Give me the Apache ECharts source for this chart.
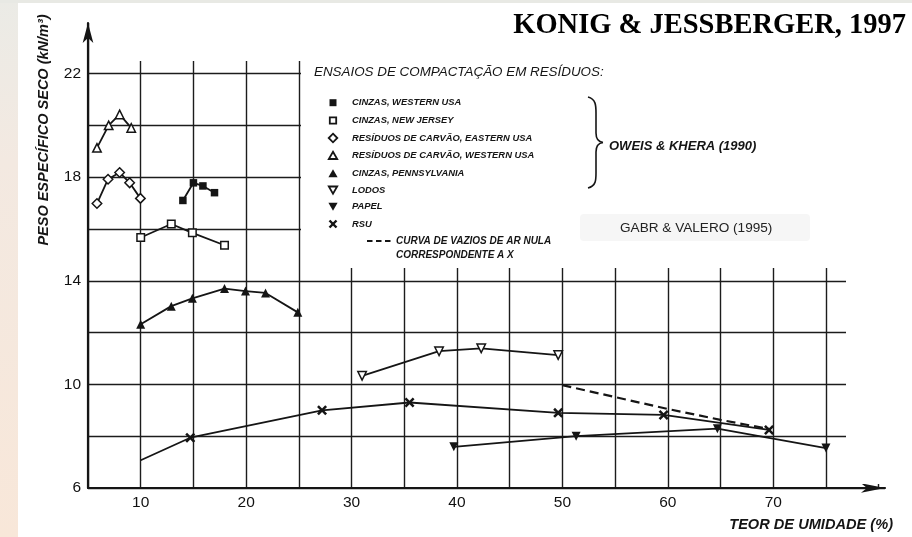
<!DOCTYPE html>
<html><head><meta charset="utf-8">
<script src="https://cdn.jsdelivr.net/npm/echarts@6/dist/echarts.min.js"></script>
<style>html,body{margin:0;padding:0;background:#fff}#c{width:912px;height:537px}</style>
</head><body><div id="c"></div><script>
// ---- data ----
const cinzasWesternX = [14.0, 15.0, 15.9, 17.0];
const cinzasWesternY = [17.1, 17.78, 17.66, 17.4];
const cinzasNJX = [10.0, 12.9, 14.9, 17.95];
const cinzasNJY = [15.67, 16.19, 15.85, 15.37];
const carvaoEastX = [5.85, 6.9, 8.0, 8.95, 9.97];
const carvaoEastY = [16.98, 17.92, 18.18, 17.78, 17.18];
const carvaoWestX = [5.85, 6.96, 8.0, 9.1];
const carvaoWestY = [19.13, 20.0, 20.42, 19.9];
const pennX = [10.0, 12.9, 14.9, 17.95, 19.94, 21.84, 24.9];
const pennY = [12.32, 13.02, 13.32, 13.7, 13.6, 13.53, 12.78];
const lodosX = [31.0, 38.3, 42.3, 49.6];
const lodosY = [10.33, 11.28, 11.39, 11.13];
const papelX = [39.7, 51.3, 64.7, 75.0];
const papelY = [7.59, 8.0, 8.29, 7.54];
const rsuX = [10.0, 14.7, 27.2, 35.5, 49.6, 59.6, 69.6];
const rsuY = [7.07, 7.94, 9.0, 9.3, 8.9, 8.82, 8.24];
const curvaX = [50, 60, 65, 69.6];
const curvaY = [9.97, 9.05, 8.63, 8.28];

const xTickLabels = [10, 20, 30, 40, 50, 60, 70];
const yTickLabels = [6, 10, 14, 18, 22];

const seriesNames = [
  'CINZAS, WESTERN USA',
  'CINZAS, NEW JERSEY',
  'RESÍDUOS DE CARVÃO, EASTERN USA',
  'RESÍDUOS DE CARVÃO, WESTERN USA',
  'CINZAS, PENNSYLVANIA',
  'LODOS',
  'PAPEL',
  'RSU',
  'CURVA DE VAZIOS DE AR NULA CORRESPONDENTE A X'
];

// ---- build ----
const zip = (xs, ys) => xs.map((x, i) => [x, ys[i]]);
const INK = '#151515';
const XPATH = 'path://M0,1.8L1.8,0L5,3.2L8.2,0L10,1.8L6.8,5L10,8.2L8.2,10L5,6.8L1.8,10L0,8.2L3.2,5Z';
const filled = { color: INK };
const hollow = { color: '#fff', borderColor: INK, borderWidth: 1.5 };
function mk(name, data, symbol, size, item, extra) {
  return Object.assign({
    type: 'line', name, data, symbol, symbolSize: size, itemStyle: item,
    lineStyle: { color: INK, width: 1.8 }, z: 3, silent: true, animation: false
  }, extra || {});
}
const rsuData = zip(rsuX, rsuY).map((p, i) => i === 0 ? { value: p, symbol: 'none' } : p);

const series = [
  mk(seriesNames[0], zip(cinzasWesternX, cinzasWesternY), 'rect', 7.5, filled),
  mk(seriesNames[1], zip(cinzasNJX, cinzasNJY), 'rect', 7.5, hollow),
  mk(seriesNames[2], zip(carvaoEastX, carvaoEastY), 'diamond', 9.5, hollow),
  mk(seriesNames[3], zip(carvaoWestX, carvaoWestY), 'triangle', 8.5, hollow),
  mk(seriesNames[4], zip(pennX, pennY), 'triangle', 9, filled),
  mk(seriesNames[5], zip(lodosX, lodosY), 'triangle', 8.5, hollow, { symbolRotate: 180 }),
  mk(seriesNames[6], zip(papelX, papelY), 'triangle', 9, filled, { symbolRotate: 180 }),
  mk(seriesNames[7], rsuData, XPATH, 10, filled),
  mk(seriesNames[8], zip(curvaX, curvaY), 'none', 0, filled,
     { lineStyle: { color: INK, width: 2.2, type: [9, 5] }, z: 4 })
];

// ---- decorations (legend, labels, masks) ----
const g = [];
// screenshot border strips
g.push({ type: 'rect', z: 0, shape: { x: 0, y: 0, width: 18, height: 537 },
  style: { fill: new echarts.graphic.LinearGradient(0, 0, 0, 1, [
    { offset: 0, color: '#ebebe6' }, { offset: 0.3, color: '#f3e9e1' }, { offset: 1, color: '#f8e7d9' }]) } });
g.push({ type: 'rect', z: 0, shape: { x: 0, y: 0, width: 912, height: 3 }, style: { fill: '#e8e9e4' } });
// masks that limit the grid lines like in the reference
g.push({ type: 'rect', z: 1, shape: { x: 94, y: 3, width: 818, height: 58 }, style: { fill: '#fff' } });
g.push({ type: 'rect', z: 1, shape: { x: 301, y: 3, width: 611, height: 265 }, style: { fill: '#fff' } });
g.push({ type: 'rect', z: 1, shape: { x: 846, y: 3, width: 66, height: 481 }, style: { fill: '#fff' } });

const LEG_FONT = 'italic bold 9.4px "Liberation Sans", Arial, sans-serif';
const CUR_FONT = 'italic bold 10px "Liberation Sans", Arial, sans-serif';
g.push({ type: 'text', z: 100, x: 906, y: 26, style: { text: 'KONIG & JESSBERGER, 1997',
  font: 'bold 28.5px "Liberation Serif", "Times New Roman", serif', fill: '#000', align: 'right', verticalAlign: 'middle' } });
g.push({ type: 'text', z: 100, x: 314, y: 72, style: { text: 'ENSAIOS DE COMPACTAÇÃO EM RESÍDUOS:',
  font: 'italic 13.4px "Liberation Sans", Arial, sans-serif', fill: INK, align: 'left', verticalAlign: 'middle' } });

const legY = [102.7, 120.5, 138, 155.5, 173.5, 190, 206.5, 224];
const icons = ['sqF', 'sqO', 'diaO', 'triO', 'triF', 'dtriO', 'dtriF', 'x'];
function icon(kind, cx, cy) {
  const F = { fill: INK }, O = { fill: '#fff', stroke: INK, lineWidth: 1.8 };
  switch (kind) {
    case 'sqF': return [{ type: 'rect', shape: { x: cx - 3.5, y: cy - 3.5, width: 7, height: 7 }, style: F }];
    case 'sqO': return [{ type: 'rect', shape: { x: cx - 3.2, y: cy - 3.2, width: 6.4, height: 6.4 }, style: O }];
    case 'diaO': return [{ type: 'polygon', shape: { points: [[cx, cy - 4.3], [cx + 4.3, cy], [cx, cy + 4.3], [cx - 4.3, cy]] }, style: O }];
    case 'triO': return [{ type: 'polygon', shape: { points: [[cx, cy - 3.8], [cx + 4.2, cy + 3.5], [cx - 4.2, cy + 3.5]] }, style: O }];
    case 'triF': return [{ type: 'polygon', shape: { points: [[cx, cy - 4.2], [cx + 4.6, cy + 3.8], [cx - 4.6, cy + 3.8]] }, style: F }];
    case 'dtriO': return [{ type: 'polygon', shape: { points: [[cx - 4.2, cy - 3.5], [cx + 4.2, cy - 3.5], [cx, cy + 3.8]] }, style: O }];
    case 'dtriF': return [{ type: 'polygon', shape: { points: [[cx - 4.6, cy - 3.8], [cx + 4.6, cy - 3.8], [cx, cy + 4.2]] }, style: F }];
    case 'x': return [
      { type: 'line', shape: { x1: cx - 3.5, y1: cy - 3.5, x2: cx + 3.5, y2: cy + 3.5 }, style: { stroke: INK, lineWidth: 2.4 } },
      { type: 'line', shape: { x1: cx + 3.5, y1: cy - 3.5, x2: cx - 3.5, y2: cy + 3.5 }, style: { stroke: INK, lineWidth: 2.4 } }];
  }
}
for (let i = 0; i < 8; i++) {
  icon(icons[i], 333, legY[i]).forEach(e => { e.z = 100; g.push(e); });
  g.push({ type: 'text', z: 100, x: 352, y: legY[i], style: { text: seriesNames[i], font: LEG_FONT, fill: INK, align: 'left', verticalAlign: 'middle' } });
}
g.push({ type: 'line', z: 100, shape: { x1: 367, y1: 241, x2: 391, y2: 241 }, style: { stroke: INK, lineWidth: 2, lineDash: [5.5, 3.5] } });
g.push({ type: 'text', z: 100, x: 396, y: 241, style: { text: 'CURVA DE VAZIOS DE AR NULA', font: CUR_FONT, fill: INK, align: 'left', verticalAlign: 'middle' } });
g.push({ type: 'text', z: 100, x: 396, y: 255, style: { text: 'CORRESPONDENTE A X', font: CUR_FONT, fill: INK, align: 'left', verticalAlign: 'middle' } });

// brace
const BR = { stroke: INK, lineWidth: 1.6, fill: null };
g.push({ type: 'bezierCurve', z: 100, shape: { x1: 588, y1: 97, cpx1: 596, cpy1: 99, cpx2: 596, cpy2: 106, x2: 596, y2: 113 }, style: BR });
g.push({ type: 'line', z: 100, shape: { x1: 596, y1: 113, x2: 596, y2: 133 }, style: BR });
g.push({ type: 'bezierCurve', z: 100, shape: { x1: 596, y1: 133, cpx1: 596, cpy1: 139, cpx2: 599, cpy2: 142, x2: 603, y2: 142.5 }, style: BR });
g.push({ type: 'bezierCurve', z: 100, shape: { x1: 603, y1: 142.5, cpx1: 599, cpy1: 143, cpx2: 596, cpy2: 146, x2: 596, y2: 152 }, style: BR });
g.push({ type: 'line', z: 100, shape: { x1: 596, y1: 152, x2: 596, y2: 173 }, style: BR });
g.push({ type: 'bezierCurve', z: 100, shape: { x1: 596, y1: 173, cpx1: 596, cpy1: 180, cpx2: 596, cpy2: 186, x2: 588, y2: 188 }, style: BR });
g.push({ type: 'text', z: 100, x: 609, y: 146, style: { text: 'OWEIS & KHERA (1990)',
  font: 'italic bold 13px "Liberation Sans", Arial, sans-serif', fill: INK, align: 'left', verticalAlign: 'middle' } });
g.push({ type: 'rect', z: 50, shape: { x: 580, y: 214, width: 230, height: 27, r: 4 }, style: { fill: '#f6f6f6' } });
g.push({ type: 'text', z: 100, x: 620, y: 228, style: { text: 'GABR & VALERO (1995)',
  font: '13.6px "Liberation Sans", Arial, sans-serif', fill: '#222', align: 'left', verticalAlign: 'middle' } });

// axis titles
g.push({ type: 'text', z: 100, x: 44, y: 130, rotation: Math.PI / 2, style: { text: 'PESO ESPECÍFICO SECO (kN/m³)',
  font: 'italic bold 14.5px "Liberation Sans", Arial, sans-serif', fill: INK, align: 'center', verticalAlign: 'middle' } });
g.push({ type: 'text', z: 100, x: 893, y: 525, style: { text: 'TEOR DE UMIDADE (%)',
  font: 'italic bold 14.6px "Liberation Sans", Arial, sans-serif', fill: INK, align: 'right', verticalAlign: 'middle' } });

const chart = echarts.init(document.getElementById('c'), null, { renderer: 'canvas' });
const split = { show: true, showMaxLine: false, lineStyle: { color: '#1c1c1c', width: 1.4 } };
const tickFont = { fontSize: 15.5, fontFamily: '"Liberation Sans", Arial, sans-serif', color: '#111' };
chart.setOption({
  backgroundColor: '#fff',
  animation: false,
  grid: { left: 88, right: 27, top: 23, bottom: 49, containLabel: false },
  xAxis: {
    type: 'value', min: 5, max: 80.6, interval: 5,
    axisLine: { show: true, symbol: ['none', 'arrow'], symbolSize: [7, 24], lineStyle: { color: INK, width: 2.2 } },
    axisTick: { show: false },
    splitLine: split,
    axisLabel: Object.assign({ margin: 7, formatter: v => xTickLabels.includes(v) ? String(v) : '' }, tickFont)
  },
  yAxis: {
    type: 'value', min: 6, max: 23.95, interval: 2,
    axisLine: { show: true, symbol: ['none', 'arrow'], symbolSize: [8, 20], lineStyle: { color: INK, width: 2.2 } },
    axisTick: { show: false },
    splitLine: split,
    axisLabel: Object.assign({ margin: 7, formatter: v => yTickLabels.includes(v) ? String(v) : '' }, tickFont)
  },
  series,
  graphic: { elements: g }
});
</script></body></html>
